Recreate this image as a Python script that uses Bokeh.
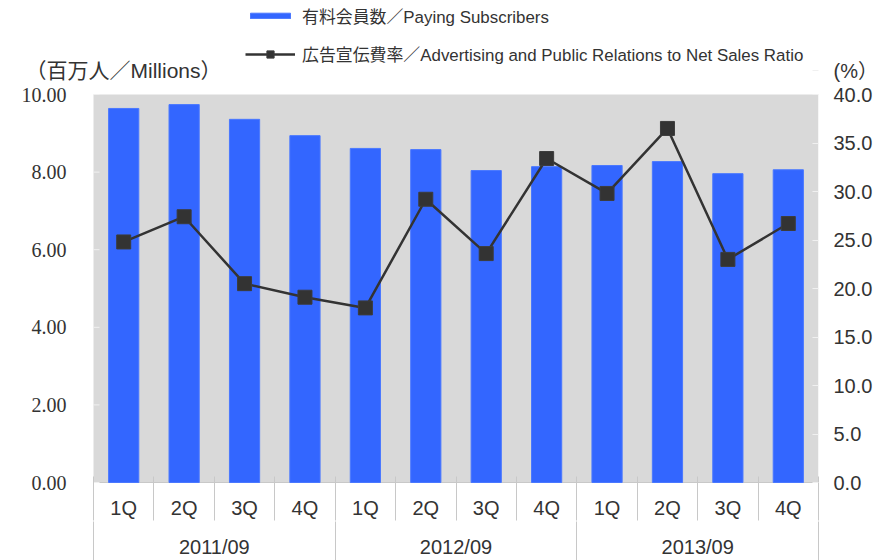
from bokeh.plotting import figure
from bokeh.models import (Range1d, LinearAxis, FixedTicker, NumeralTickFormatter,
                          Legend, LegendItem, Label, LabelSet, BoxAnnotation,
                          ColumnDataSource)
from bokeh.embed import file_html
from bokeh.resources import INLINE

# ---- data ----
quarters = ["1Q", "2Q", "3Q", "4Q", "1Q", "2Q", "3Q", "4Q", "1Q", "2Q", "3Q", "4Q"]
years = ["2011/09", "2012/09", "2013/09"]
subscribers = [9.64, 9.74, 9.36, 8.94, 8.61, 8.58, 8.04, 8.14, 8.17, 8.27, 7.96, 8.06]
ad_ratio = [24.8, 27.4, 20.5, 19.1, 18.0, 29.2, 23.6, 33.4, 29.8, 36.5, 23.0, 26.7]
left_ticks = [0, 2, 4, 6, 8, 10]
left_tick_labels = ["0.00", "2.00", "4.00", "6.00", "8.00", "10.00"]
right_ticks = [0, 5, 10, 15, 20, 25, 30, 35, 40]
left_max, right_max = 10, 40
bar_label = "有料会員数／Paying Subscribers"
line_label = "広告宣伝費率／Advertising and Public Relations to Net Sales Ratio"
left_title = "（百万人／Millions）"
right_title = "(%）"

# ---- layout (pixels) ----
W, H = 881, 560
AREA_L, AREA_R, AREA_T, AREA_B = 93, 818, 94, 482   # grey plotting area on the page
FRAME_B = 496                                       # frame reaches a bit below the grey area
ROW1_B = 520                                        # bottom of the quarter-label row
TITLE_Y = 70                                        # centre line of the axis titles

FONT = "Liberation Sans, Noto Sans CJK JP"
TXT = "#333333"
BLUE = "#3366ff"
SEP = "#c8c8c8"

n = len(quarters)
per_year = n // len(years)
x = list(range(1, n + 1))
quarter_edges = [i - 0.5 for i in range(1, n + 2)]
year_edges = [i * per_year + 0.5 for i in range(len(years) + 1)]
year_mids = [i * per_year + (per_year + 1) / 2 for i in range(len(years))]

px_x = (AREA_R - AREA_L) / n
px_y = (AREA_B - AREA_T) / left_max
x0 = 0.5 - AREA_L / px_x
y_top = AREA_B / px_y
y_bot = -(FRAME_B - AREA_B) / px_y
pct_scale = right_max / left_max

p = figure(width=W, height=H, x_range=Range1d(x0, n + 0.5), y_range=Range1d(y_bot, y_top),
           output_backend="svg", toolbar_location=None, title_location=None,
           x_axis_location=None, y_axis_location=None,
           min_border_left=0, min_border_right=W - AREA_R, min_border_top=0,
           min_border_bottom=H - FRAME_B)
p.background_fill_color = "white"
p.border_fill_color = "white"
p.outline_line_color = None
p.grid.grid_line_color = None
p.extra_y_ranges = {"pct": Range1d(y_bot * pct_scale, y_top * pct_scale)}

p.add_layout(BoxAnnotation(left=0.5, right=n + 0.5, bottom=0, top=left_max,
                           fill_color="#d9d9d9", fill_alpha=1, line_color=None,
                           level="underlay"))
# bottom edge of the grey area (category axis line)
p.segment(x0=[0.5], x1=[n + 0.5], y0=[0], y1=[0], line_color=SEP, line_width=1)

# left tick labels (the left edge of the frame is the page edge)
lsrc = ColumnDataSource(dict(y=left_ticks, text=left_tick_labels))
p.add_layout(LabelSet(x=AREA_L - 27, y="y", text="text", source=lsrc, x_units="screen",
                      text_align="right", text_baseline="middle", text_font_size="20px",
                      text_font=FONT, text_color=TXT))
p.segment(x0=[0.5] * len(left_ticks), x1=[0.5 + 6 / px_x] * len(left_ticks),
          y0=left_ticks, y1=left_ticks, line_color="#f0f0f0", line_width=1)

# right axis (with the "(%)" title as a label just above the grey area)
title_pct = (AREA_B - TITLE_Y) / px_y * pct_scale
rax = LinearAxis(y_range_name="pct", ticker=FixedTicker(ticks=right_ticks + [title_pct]),
                 formatter=NumeralTickFormatter(format="0.0"))
rax.major_label_overrides = {float(title_pct): right_title}
rax.axis_line_color = None
rax.major_tick_in = 6
rax.major_tick_out = 0
rax.major_tick_line_color = "#f0f0f0"
rax.minor_tick_line_color = None
rax.major_label_standoff = 15
rax.major_label_text_font_size = "20px"
rax.major_label_text_font = FONT
rax.major_label_text_color = TXT
p.add_layout(rax, "right")

# quarter axis
qout = ROW1_B - FRAME_B
qax = LinearAxis(ticker=FixedTicker(ticks=x, minor_ticks=quarter_edges), bounds=(0.5, n + 0.5))
qax.major_label_overrides = {float(i): q for i, q in zip(x, quarters)}
qax.axis_line_color = None
qax.major_tick_line_color = None
qax.major_tick_out = 0
qax.major_tick_in = 0
qax.minor_tick_line_color = SEP
qax.minor_tick_in = FRAME_B - AREA_B + 6
qax.minor_tick_out = qout
qax.major_label_standoff = -qout
qax.major_label_text_font_size = "20px"
qax.major_label_text_font = FONT
qax.major_label_text_color = TXT
p.add_layout(qax, "below")

# year axis
yrax = LinearAxis(ticker=FixedTicker(ticks=year_mids, minor_ticks=year_edges), bounds=(0.5, n + 0.5))
yrax.major_label_overrides = {float(m): y for m, y in zip(year_mids, years)}
yrax.axis_line_color = None
yrax.major_tick_line_color = None
yrax.major_tick_out = 0
yrax.major_tick_in = 0
yrax.minor_tick_line_color = SEP
yrax.minor_tick_in = 0
yrax.minor_tick_out = 40
yrax.major_label_standoff = -26
yrax.major_label_text_font_size = "20px"
yrax.major_label_text_font = FONT
yrax.major_label_text_color = TXT
p.add_layout(yrax, "below")

# bars
bars = p.vbar(x=x, top=subscribers, width=0.5, fill_color=BLUE, line_color="#4a78ff", line_width=1)
# line + markers
ln = p.line(x, ad_ratio, y_range_name="pct", line_color="#333333", line_width=2.5)
sc = p.scatter(x, ad_ratio, y_range_name="pct", marker="square", size=14,
               fill_color="#333333", line_color="#3c3c3c")

common = dict(orientation="vertical", glyph_width=50, padding=0, margin=0,
              border_line_color=None, background_fill_alpha=0, label_standoff=7,
              label_text_font_size="16.9px", label_text_font=FONT, label_text_color=TXT)
leg1 = Legend(items=[LegendItem(label=bar_label, renderers=[bars])],
              location=(245, FRAME_B - 28), glyph_height=7, label_height=24, **common)
leg2 = Legend(items=[LegendItem(label=line_label, renderers=[ln, sc])],
              location=(245, FRAME_B - 66), glyph_height=18, label_height=24, **common)
p.add_layout(leg1)
p.add_layout(leg2)

p.add_layout(Label(x=25, y=FRAME_B - TITLE_Y, x_units="screen", y_units="screen",
                   text=left_title, text_align="left", text_baseline="middle",
                   text_font_size="21px", text_font=FONT, text_color=TXT))

open("out.html", "w").write(file_html(p, INLINE))
